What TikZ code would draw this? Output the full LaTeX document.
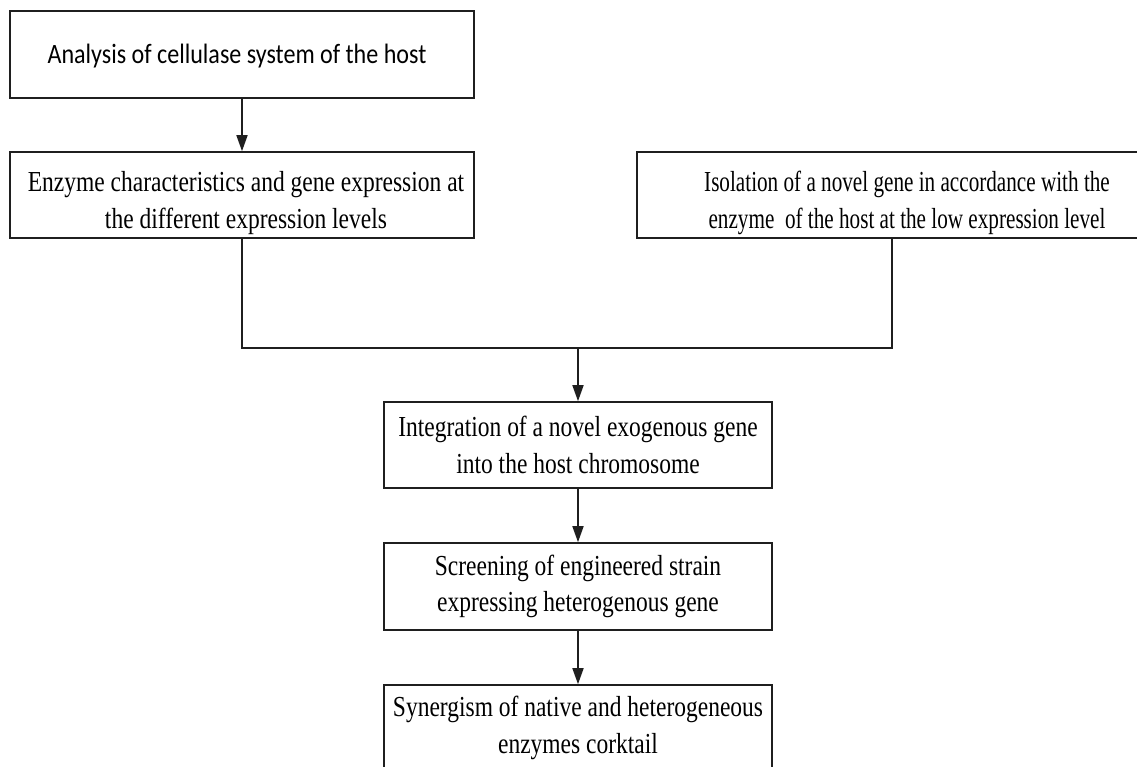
\documentclass[tikz,border=0pt]{standalone}
\usepackage{fontspec}
\usetikzlibrary{arrows.meta}
\newfontfamily\tnrfont[FakeStretch=0.81]{Liberation Serif}
\newfontfamily\tnrnarrow[FakeStretch=0.73]{Liberation Serif}
\newfontfamily\calfont[FakeStretch=0.86]{Carlito}
\tikzset{
  box/.style={draw=black!88, line width=1.6pt, rectangle, inner sep=0pt, align=center,
    font=\tnrfont\fontsize{29}{36.5}\selectfont},
  txt/.style={inner sep=0pt, align=center, font=\tnrfont\fontsize{29}{36.5}\selectfont},
  conn/.style={draw=black!88, line width=1.6pt},
  arr/.style={conn, -{Triangle[length=16pt,width=11pt]}}
}
\begin{document}
\begin{tikzpicture}[x=1pt,y=-1pt]
\useasboundingbox (0,0) rectangle (1137,766);
\clip (0,0) rectangle (1137,766);
\node[box, minimum width=464pt, minimum height=87pt] (b1) at (242,54.5) {};
\node[txt, font=\calfont\fontsize{28}{34}\selectfont] (t1) at (237,56.5) {Analysis of cellulase system of the host};
\node[box, minimum width=464pt, minimum height=86pt] (b2) at (242,195) {};
\node[txt] (t2) at (246,203) {Enzyme characteristics and gene expression at\\the different expression levels};
\node[box, minimum width=540pt, minimum height=86pt] (b3) at (907,195) {};
\node[txt, font=\tnrnarrow\fontsize{29}{36.5}\selectfont] (t3) at (907,203) {Isolation of a novel gene in accordance with the\\enzyme\ \ of the host at the low expression level};
\node[box, minimum width=388pt, minimum height=86pt] (b4) at (578,445) {Integration of a novel exogenous gene\\into the host chromosome};
\node[box, minimum width=388pt, minimum height=87pt] (b5) at (578,586.5) {Screening of engineered strain\\expressing heterogenous gene};
\node[box, minimum width=388pt, minimum height=86pt] (b6) at (578,728) {Synergism of native and heterogeneous\\enzymes corktail};
\coordinate (jl) at (242,348);
\coordinate (jr) at (892,348);
\coordinate (jm) at (578,348);
\draw[arr] (b1) -- (b2);
\draw[conn] (b2.south) -- (jl) -- (jr) -- (b3.south -| jr);
\draw[arr] (jm) -- (b4.north);
\draw[arr] (b4) -- (b5);
\draw[arr] (b5) -- (b6);
\end{tikzpicture}
\end{document}
